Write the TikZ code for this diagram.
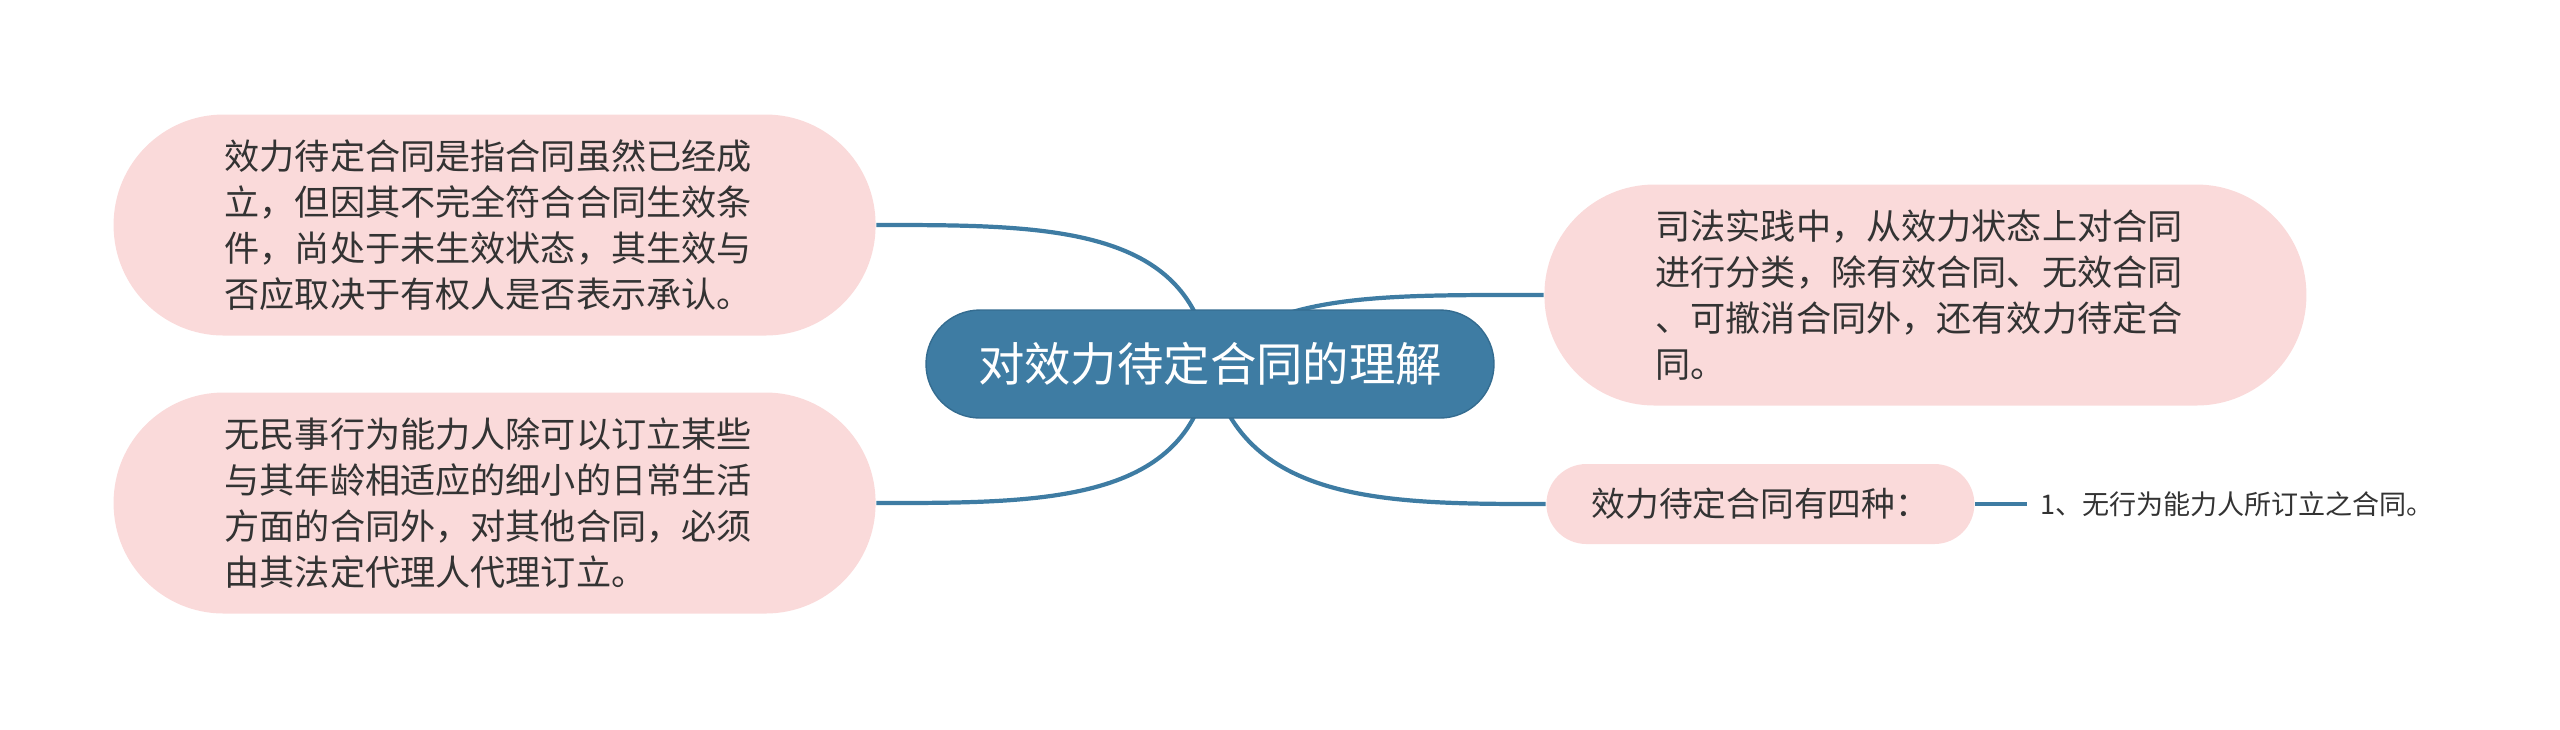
\documentclass[tikz,border=0pt]{standalone}
\usepackage{fontspec}
\setmainfont{Noto Sans CJK SC}
\usetikzlibrary{positioning,backgrounds}
\definecolor{Trunk}{HTML}{3E7CA3}
\definecolor{TrunkEdge}{HTML}{346C90}
\definecolor{Petal}{HTML}{FADADA}
\definecolor{Ink}{HTML}{333333}

\begin{document}
\begin{tikzpicture}[
  centrebox/.style={draw=TrunkEdge, fill=Trunk, text=white, rounded corners=0.54cm, minimum width=5.68cm, minimum height=1.08cm, font=\fontsize{13.2}{16}\selectfont},
  notebox/.style={fill=Petal, text=Ink, rounded corners=1.1cm, minimum width=7.62cm, minimum height=2.21cm, align=left, text width=5.4cm, font=\fontsize{10}{13.1}\selectfont},
  kindbox/.style={fill=Petal, text=Ink, rounded corners=0.4cm, minimum width=4.28cm, minimum height=0.8cm, font=\fontsize{9.6}{12}\selectfont},
  leaf/.style={text=Ink, inner sep=3.5pt, font=\fontsize{7.7}{9}\selectfont},
  link/.style={draw=Trunk, line width=1.2pt}
]
  \useasboundingbox (0,0) rectangle (25.6,-7.29);
  \node[centrebox] (centre) at (12.10,-3.64) {对效力待定合同的理解};
  \node[notebox, left=0.49cm of centre, yshift=1.39cm] (defn) {效力待定合同是指合同虽然已经成\\立，但因其不完全符合合同生效条\\件，尚处于未生效状态，其生效与\\否应取决于有权人是否表示承认。};
  \node[notebox, left=0.49cm of centre, yshift=-1.39cm] (minor) {无民事行为能力人除可以订立某些\\与其年龄相适应的细小的日常生活\\方面的合同外，对其他合同，必须\\由其法定代理人代理订立。};
  \node[notebox, right=0.49cm of centre, yshift=0.69cm] (practice) {司法实践中，从效力状态上对合同\\进行分类，除有效合同、无效合同\\、可撤消合同外，还有效力待定合\\同。};
  \node[kindbox, right=0.51cm of centre, yshift=-1.40cm] (kinds) {效力待定合同有四种：};
  \node[leaf, right=0.52cm of kinds] (first) {1、无行为能力人所订立之合同。};
  \begin{scope}[on background layer]
    \draw[link] (centre.center) .. controls +(-0.18,1.40) and +(1.68,0) .. (defn.east);
    \draw[link] (centre.center) .. controls +(-0.18,-1.40) and +(1.68,0) .. (minor.east);
    \draw[link] (centre.center) .. controls +(0.55,0.72) and +(-1.6,0) .. (practice.west);
    \draw[link] (centre.center) .. controls +(0.3,-1.4) and +(-1.6,0) .. (kinds.west);
  \end{scope}
  \draw[link] (kinds) -- (first);
\end{tikzpicture}
\end{document}
